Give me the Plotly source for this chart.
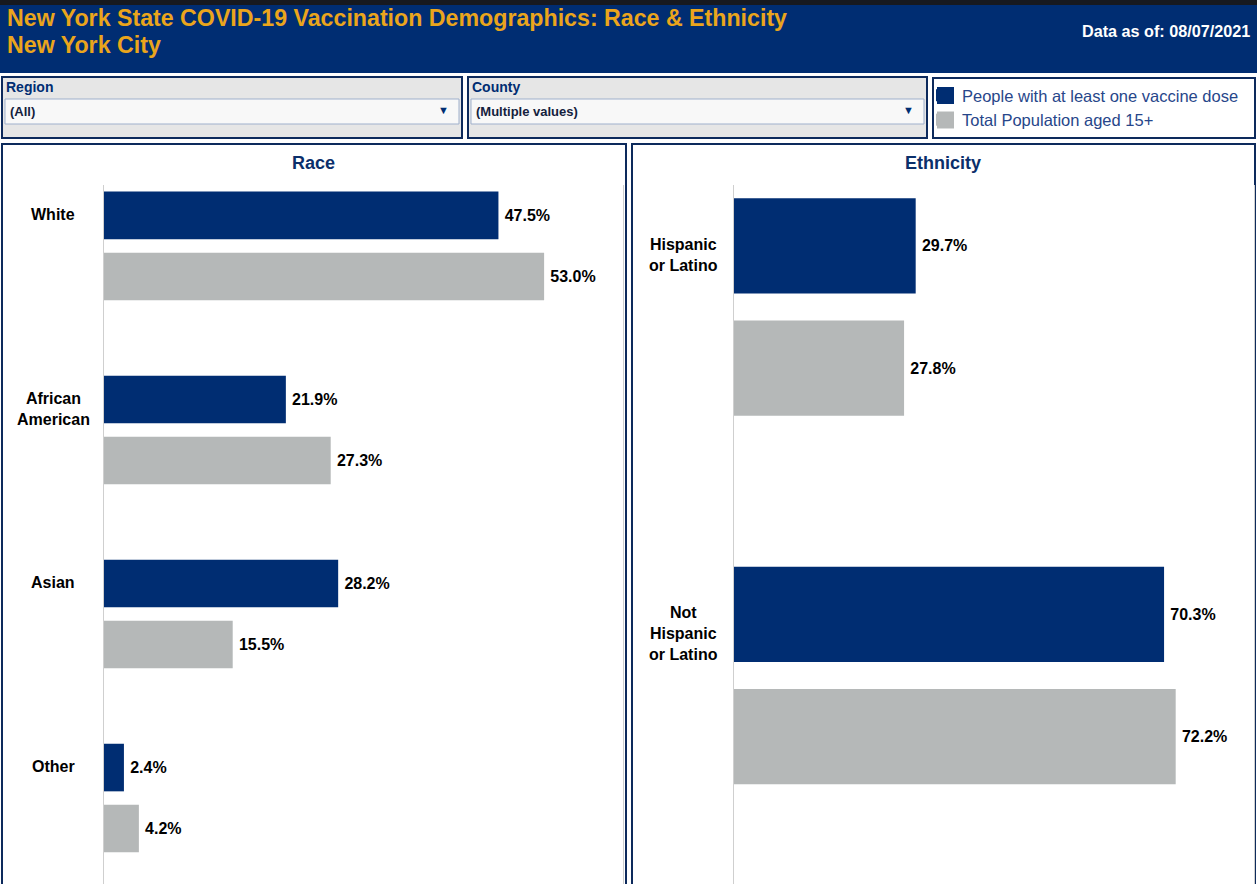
import plotly.graph_objects as go

W, H = 1257, 884

# ---------------- data ----------------
race_categories = ["White", "African American", "Asian", "Other"]
race_labels = ["White", "African<br>American", "Asian", "Other"]
race_dose = [47.5, 21.9, 28.2, 2.4]
race_pop = [53.0, 27.3, 15.5, 4.2]

eth_categories = ["Hispanic or Latino", "Not Hispanic or Latino"]
eth_labels = ["Hispanic<br>or Latino", "Not<br>Hispanic<br>or Latino"]
eth_dose = [29.7, 70.3]
eth_pop = [27.8, 72.2]

series_names = ["People with at least one vaccine dose", "Total Population aged 15+"]
series_colors = ["#002d72", "#b5b8b8"]

title_line1 = "New York State COVID-19 Vaccination Demographics: Race & Ethnicity"
title_line2 = "New York City"
data_date = "Data as of: 08/07/2021"
filters = [("Region", "(All)"), ("County", "(Multiple values)")]

# ---------------- helpers ----------------
FONT = "Liberation Sans, Arial, sans-serif"
NAVY = "#002d72"
BORDER = "#0d2a5c"


def px(x):
    return x / W


def py(y):
    return 1 - y / H


shapes = []
annotations = []


def rect(x0, y0, x1, y1, fill, line=None, lw=0, layer="below"):
    shapes.append(dict(type="rect", xref="paper", yref="paper",
                       x0=px(x0), x1=px(x1), y0=py(y1), y1=py(y0),
                       fillcolor=fill, layer=layer,
                       line=dict(color=line if line else fill, width=lw)))


def text(x, y, s, size, color, bold=False, xanchor="left", yanchor="middle"):
    annotations.append(dict(xref="paper", yref="paper", x=px(x), y=py(y),
                            text=f"<b>{s}</b>" if bold else s, showarrow=False,
                            xanchor=xanchor, yanchor=yanchor,
                            font=dict(family=FONT, size=size, color=color)))


# header
rect(0, 0, W, 5, "#17191f")
rect(0, 5, W, 73, NAVY)
text(5, 18, title_line1, 23.2, "#eaa51c", bold=True)
text(5, 45, title_line2, 23.2, "#eaa51c", bold=True)
text(1252, 31, data_date, 16.2, "white", bold=True, xanchor="right")

# filter boxes
for (label, value), (x0, x1) in zip(filters, [(2, 462), (468, 927)]):
    rect(x0, 77, x1, 138, "#e6e6e6", BORDER, 2)
    rect(x0 + 3, 99, x1 - 3, 124, "#f8f8f8", "#9fb0cc", 1)
    text(x0 + 2, 87, label, 14, NAVY, bold=True)
    text(x0 + 6, 111, value, 13, "#14213d", bold=True)
    text(x1 - 19, 110, "▼", 11, NAVY, xanchor="center")

# legend frame and swatches (legend entries themselves come from the traces)
rect(933, 78, 1255, 138, "white", BORDER, 2)
for i, color in enumerate(series_colors):
    rect(937, 87 + i * 24.5, 954, 104 + i * 24.5, color)

# panels
rect(2, 144, 626, H + 5, "white", BORDER, 2)
rect(632, 144, 1255, H + 5, "white", BORDER, 2)
text(313, 163, "Race", 18, "#0b2f6b", bold=True, xanchor="center")
text(943, 163, "Ethnicity", 18, "#0b2f6b", bold=True, xanchor="center")

# ---------------- bars ----------------
fig = go.Figure()

bar_text = dict(texttemplate="<b>\u2009%{x:.1f}%</b>", textposition="outside",
                textfont=dict(family=FONT, size=16, color="black"),
                cliponaxis=False, constraintext="none", hoverinfo="skip")

for vals, name, color in zip([race_dose, race_pop], series_names, series_colors):
    fig.add_trace(go.Bar(y=race_categories, x=vals, orientation="h", name=name,
                         marker=dict(color=color, line=dict(width=0)),
                         xaxis="x", yaxis="y", showlegend=True, **bar_text))

for vals, name, color in zip([eth_dose, eth_pop], series_names, series_colors):
    fig.add_trace(go.Bar(y=eth_categories, x=vals, orientation="h", name=name,
                         marker=dict(color=color, line=dict(width=0)),
                         xaxis="x2", yaxis="y2", showlegend=False, **bar_text))

# category labels (top-aligned, centered in the header column)
for cat, lab in zip(race_categories, race_labels):
    annotations.append(dict(xref="paper", yref="y", x=px(53), y=cat, text=f"<b>{lab}</b>",
                            showarrow=False, xanchor="center", yanchor="top", yshift=42,
                            align="center", font=dict(family=FONT, size=16, color="black")))
for cat, lab in zip(eth_categories, eth_labels):
    annotations.append(dict(xref="paper", yref="y2", x=px(683), y=cat, text=f"<b>{lab}</b>",
                            showarrow=False, xanchor="center", yanchor="top", yshift=73,
                            align="center", font=dict(family=FONT, size=16, color="black")))

plot_top = py(185)

axis_common = dict(showgrid=False, zeroline=False, showticklabels=False, ticks="",
                   fixedrange=True)

fig.update_layout(
    width=W, height=H,
    margin=dict(l=0, r=0, t=0, b=0),
    paper_bgcolor="white", plot_bgcolor="rgba(0,0,0,0)",
    barmode="group", bargap=0.337, bargroupgap=0.22,
    font=dict(family=FONT),
    xaxis=dict(domain=[px(104), px(623)], range=[0, 62.5], anchor="y", **axis_common),
    yaxis=dict(domain=[0, plot_top], type="category", categoryorder="array",
               categoryarray=race_categories, range=[3.467, -0.331], anchor="x",
               showline=True, linecolor="#cfcfcf", linewidth=1, mirror=True, **axis_common),
    xaxis2=dict(domain=[px(734), px(1254)], range=[0, 85], anchor="y2", **axis_common),
    yaxis2=dict(domain=[0, plot_top], type="category", categoryorder="array",
                categoryarray=eth_categories, range=[1.566, -0.331], anchor="x2",
                showline=True, linecolor="#cfcfcf", linewidth=1, mirror=True, **axis_common),
    legend=dict(x=px(922), y=py(78), xanchor="left", yanchor="top",
                bgcolor="rgba(0,0,0,0)", traceorder="normal",
                font=dict(family=FONT, size=16.5, color="#27468a")),
    shapes=shapes,
    annotations=annotations,
)

fig.write_html("out.html", config={"displayModeBar": False},
               post_script="document.body.style.margin='0px';")
